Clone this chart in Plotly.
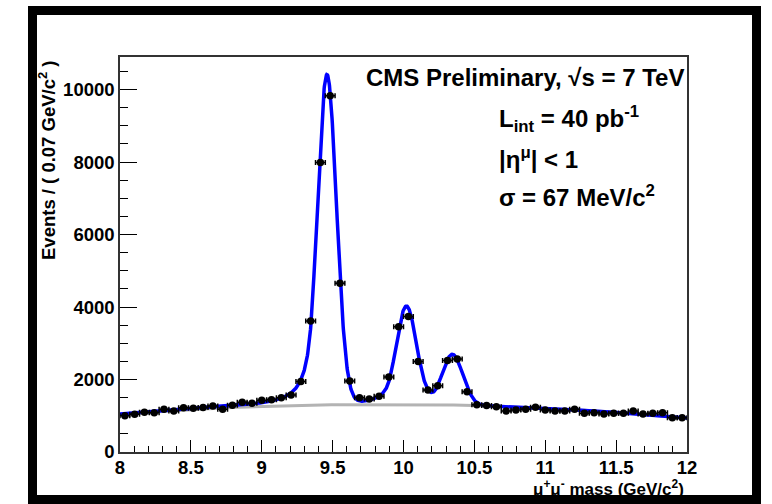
import numpy as np
import plotly.graph_objects as go

# ---- data ----
x_min, x_max, n_bins = 8.0, 12.0, 58
bin_width = (x_max - x_min) / n_bins
counts = [1003, 1040, 1095, 1085, 1180, 1132, 1224, 1205, 1230, 1270,
          1180, 1290, 1372, 1345, 1428, 1440, 1500, 1574, 1942,
          3618, 7990, 9833, 4659, 1961, 1500, 1464, 1540, 2067, 3455, 3737,
          2494, 1712, 1831, 2522, 2569, 1660, 1305, 1285, 1251,
          1132, 1160, 1180, 1233, 1160, 1132, 1132, 1180, 1069, 1085,
          1050, 1069, 1069, 1132, 1050, 1069, 1085, 948, 948]
bin_centers = [x_min + (i + 0.5) * bin_width for i in range(n_bins)]

# fit model parameters (3 Crystal-Ball peaks + quadratic background)
peak_mass = [9.46, 10.02, 10.345]
peak_sigma = [0.067, 0.071, 0.0733]
peak_amp = [9090, 2680, 1400]
cb_alpha = 1.6
cb_n = 2.0
bg_max, bg_peak, bg_curv = 1315.0, 9.844, 80.9

x_ticks = [8, 8.5, 9, 9.5, 10, 10.5, 11, 11.5, 12]
x_tick_text = ["8", "8.5", "9", "9.5", "10", "10.5", "11", "11.5", "12"]
y_ticks = [0, 2000, 4000, 6000, 8000, 10000]
y_tick_text = ["0", "2000", "4000", "6000", "8000", "10000"]


def background(x):
    return bg_max - bg_curv * (x - bg_peak) ** 2


def crystal_ball(x, m, s):
    t = (x - m) / s
    A = (cb_n / cb_alpha) ** cb_n * np.exp(-cb_alpha ** 2 / 2)
    B = cb_n / cb_alpha - cb_alpha
    out = np.exp(-t ** 2 / 2)
    tail = t < -cb_alpha
    out[tail] = A * (B - t[tail]) ** (-cb_n)
    return out


xc = np.linspace(x_min, x_max, 2001)
bg_curve = background(xc)
total_curve = bg_curve.copy()
for m, s, a in zip(peak_mass, peak_sigma, peak_amp):
    total_curve += a * crystal_ball(xc, m, s)

# ---- layout geometry (pixels) ----
W, H = 772, 504
L, R, T, B = 120, 687, 57, 452
pw, ph = R - L, B - T


def px(xp):
    return (xp - L) / pw


def py(yp):
    return (B - yp) / ph


FONT = "Liberation Sans, Arial, Helvetica, sans-serif"

fig = go.Figure()
fig.add_trace(go.Scatter(x=xc, y=bg_curve, mode="lines",
                         line=dict(color="#b3b3b3", width=3), hoverinfo="skip"))
fig.add_trace(go.Scatter(x=xc, y=total_curve, mode="lines",
                         line=dict(color="#0000ff", width=3.5), hoverinfo="skip"))
fig.add_trace(go.Scatter(
    x=bin_centers, y=counts, mode="markers",
    marker=dict(color="black", size=7.5, symbol="circle"),
    error_x=dict(type="constant", value=bin_width / 2, color="black", thickness=1.5, width=2.5),
    error_y=dict(type="data", array=list(np.sqrt(counts)), color="black", thickness=1.5, width=0),
))

axis_common = dict(showgrid=False, zeroline=False, showline=True, mirror=True,
                   linecolor="#333333", linewidth=1.5, ticks="inside",
                   tickcolor="black", tickwidth=1.2,
                   tickfont=dict(family=FONT, size=18.5, color="black", weight="bold"))

fig.update_xaxes(range=[x_min, x_max], tickvals=x_ticks, ticktext=x_tick_text,
                 ticklen=12, ticklabelstandoff=-2,
                 minor=dict(dtick=0.1, tick0=8, ticklen=6, ticks="inside",
                            tickcolor="black", tickwidth=1.2),
                 **axis_common)
fig.update_yaxes(range=[0, 10900], tickvals=y_ticks, ticktext=y_tick_text,
                 ticklen=17,
                 minor=dict(dtick=500, tick0=0, ticklen=8.5, ticks="inside",
                            tickcolor="black", tickwidth=1.2),
                 **axis_common)

bold = dict(family=FONT, size=24, color="black", weight="bold")
ann = [
    dict(x=px(686), y=py(77), text="CMS Preliminary, √s = 7 TeV",
         xanchor="right", yanchor="middle", font=bold),
    dict(x=px(497), y=py(119), text="L<sub>int</sub> = 40 pb<sup>-1</sup>",
         xanchor="left", yanchor="middle", font=bold),
    dict(x=px(497), y=py(158), text="|η<sup>μ</sup>| < 1",
         xanchor="left", yanchor="middle", font=bold),
    dict(x=px(497), y=py(196), text="σ = 67 MeV/c<sup>2</sup>",
         xanchor="left", yanchor="middle", font=bold),
    dict(x=px(47), y=py(58), text="Events / ( 0.07 GeV/c<sup>2</sup> )", textangle=-90,
         xanchor="center", yanchor="top",
         font=dict(family=FONT, size=18.5, color="black", weight="bold")),
    dict(x=px(685), y=py(487.5), text="μ<sup>+</sup>μ<sup>-</sup> mass (GeV/c<sup>2</sup>)",
         xanchor="right", yanchor="middle", borderpad=0,
         font=dict(family=FONT, size=17, color="black", weight="bold")),
]
for a in ann:
    a.update(xref="paper", yref="paper", showarrow=False)

# thick black outer border
bars = [(28, 6, 37, 504), (752, 6, 761, 504), (28, 6, 761, 15), (28, 495, 761, 504)]
shapes = [dict(type="rect", xref="paper", yref="paper", x0=px(a), x1=px(c), y0=py(b), y1=py(d),
               fillcolor="black", line=dict(width=0), layer="above") for a, b, c, d in bars]

fig.update_layout(width=W, height=H, autosize=False,
                  margin=dict(l=L, r=W - R, t=T, b=H - B, pad=0),
                  paper_bgcolor="white", plot_bgcolor="white", showlegend=False,
                  annotations=ann, shapes=shapes)

fig.write_html("out.html")
